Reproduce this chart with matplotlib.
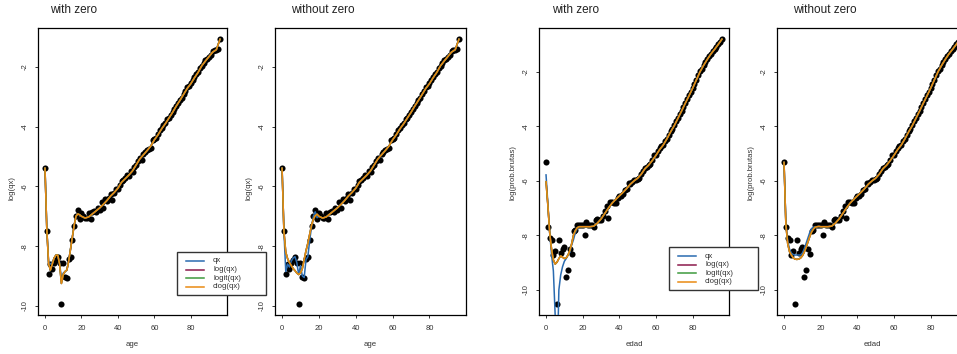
import matplotlib
matplotlib.use("Agg")
import matplotlib.pyplot as plt
from matplotlib.patches import Rectangle
from matplotlib.lines import Line2D

plt.rcParams['font.family'] = ['Liberation Sans', 'DejaVu Sans']
plt.rcParams['axes.unicode_minus'] = False

# observed log mortality, ages 0..96
ages = list(range(97))
log_qx = [-5.37, -7.48, -8.92, -8.61, -8.75, -8.55, -8.45, -8.35, -8.55, -9.95,
          -8.58, -9.05, -9.08, -8.42, -8.38, -7.80, -7.33, -7.00, -6.78, -7.08,
          -6.88, -7.00, -7.05, -7.05, -6.90, -7.10, -6.85, -6.82, -6.85, -6.72,
          -6.78, -6.52, -6.72, -6.42, -6.50, -6.38, -6.25, -6.45, -6.22, -6.10,
          -6.08, -5.95, -5.82, -5.78, -5.72, -5.62, -5.65, -5.48, -5.50, -5.35,
          -5.28, -5.15, -5.05, -5.10, -4.92, -4.85, -4.78, -4.75, -4.70, -4.45,
          -4.42, -4.38, -4.25, -4.12, -4.05, -3.95, -3.88, -3.75, -3.70, -3.62,
          -3.50, -3.42, -3.30, -3.22, -3.10, -3.05, -2.90, -2.82, -2.68, -2.65,
          -2.55, -2.45, -2.35, -2.22, -2.18, -2.05, -1.95, -1.85, -1.78, -1.72,
          -1.65, -1.60, -1.48, -1.42, -1.42, -1.40, -1.05]
log_prob = [-5.32, -7.68, -8.10, -8.15, -8.72, -8.56, -10.53, -8.17, -8.65, -8.50,
            -8.42, -9.54, -9.27, -8.51, -8.67, -7.82, -7.80, -7.62, -7.62, -7.60,
            -7.62, -7.98, -7.49, -7.62, -7.60, -7.62, -7.70, -7.45, -7.40, -7.42,
            -7.45, -7.30, -7.10, -6.92, -7.37, -6.76, -6.78, -6.80, -6.82, -6.62,
            -6.57, -6.55, -6.48, -6.35, -6.28, -6.08, -6.10, -6.05, -5.95, -5.98,
            -5.92, -5.90, -5.75, -5.62, -5.52, -5.50, -5.42, -5.38, -5.25, -5.05,
            -5.05, -4.92, -4.80, -4.72, -4.68, -4.55, -4.45, -4.30, -4.18, -4.08,
            -3.95, -3.80, -3.68, -3.55, -3.42, -3.28, -3.15, -3.00, -2.85, -2.72,
            -2.60, -2.45, -2.30, -2.12, -1.98, -1.88, -1.75, -1.62, -1.52, -1.42,
            -1.34, -1.25, -1.16, -1.08, -0.98, -0.90, -0.78]

# fitted curves: young ages (0..19) per panel, older ages shared per dataset
young_age = list(range(20))
upper_age = list(range(20, 97, 2))
upper_fit_qx = [-7.00, -7.06, -7.02, -6.92, -6.82, -6.72, -6.60, -6.47, -6.32, -6.20,
                -6.06, -5.86, -5.74, -5.62, -5.48, -5.28, -5.08, -4.94, -4.80, -4.65,
                -4.44, -4.27, -4.07, -3.90, -3.71, -3.52, -3.31, -3.12, -2.92, -2.72,
                -2.56, -2.36, -2.18, -1.96, -1.80, -1.65, -1.50, -1.42, -1.07]
upper_fit_prob = [-7.68, -7.68, -7.68, -7.66, -7.55, -7.40, -7.20, -7.00, -6.82, -6.68,
                  -6.55, -6.42, -6.28, -6.12, -6.00, -5.90, -5.75, -5.55, -5.42, -5.25,
                  -5.06, -4.85, -4.68, -4.45, -4.20, -3.97, -3.70, -3.43, -3.15, -2.88,
                  -2.60, -2.30, -2.00, -1.76, -1.54, -1.34, -1.17, -0.99, -0.80]

p1_qx = [-5.39, -7.45, -8.55, -8.60, -8.55, -8.40, -8.30, -8.30, -8.55, -9.10,
         -8.90, -8.85, -8.80, -8.50, -8.10, -7.70, -7.30, -7.00, -6.92, -6.95]
p1_other = [-5.39, -7.45, -8.60, -8.80, -8.60, -8.40, -8.30, -8.30, -8.60, -9.25,
            -8.95, -8.85, -8.80, -8.50, -8.10, -7.70, -7.30, -7.00, -6.92, -6.95]
p2_qx = [-5.39, -7.50, -8.85, -8.60, -8.70, -8.50, -8.40, -8.35, -8.55, -8.95,
         -8.65, -9.00, -9.05, -8.45, -8.35, -7.80, -7.35, -7.00, -6.85, -7.05]
p2_other = [-5.39, -7.50, -8.20, -8.42, -8.55, -8.65, -8.75, -8.82, -8.90, -8.95,
            -8.90, -8.75, -8.45, -8.15, -7.90, -7.60, -7.30, -7.10, -6.98, -6.93]
p3_qx = [-5.78, -6.85, -7.90, -8.70, -9.30, -10.95, -13.00, -10.00, -9.45, -9.15,
         -8.95, -8.85, -8.72, -8.62, -8.35, -8.15, -7.90, -7.75, -7.68, -7.68]
p3_other = [-6.03, -6.90, -7.90, -8.50, -8.90, -9.05, -8.98, -8.85, -8.75, -8.80,
            -8.85, -8.82, -8.72, -8.55, -8.30, -7.98, -7.82, -7.72, -7.68, -7.68]
p4_qx = [-5.32, -7.55, -8.20, -8.50, -8.65, -8.70, -8.72, -8.72, -8.72, -8.72,
         -8.65, -8.50, -8.30, -8.10, -7.90, -7.75, -7.70, -7.68, -7.68, -7.67]
p4_other = [-5.32, -7.60, -8.30, -8.60, -8.72, -8.82, -8.87, -8.88, -8.87, -8.83,
            -8.75, -8.62, -8.45, -8.25, -8.05, -7.88, -7.77, -7.70, -7.68, -7.67]

labels = ['qx', 'log(qx)', 'logit(qx)', 'clog(qx)']
colors = ['#2a6bb0', '#8c1a4b', '#3d9a3d', '#ea8a12']

panels = [
    ("with zero", "age", "log(qx)", log_qx, p1_qx, p1_other, upper_fit_qx, 38, 227, 50, (177, 252)),
    ("without zero", "age", "log(qx)", log_qx, p2_qx, p2_other, upper_fit_qx, 275, 466, 291, None),
    ("with zero", "edad", "log(prob.brutas)", log_prob, p3_qx, p3_other, upper_fit_prob, 539, 729, 552, (669, 247)),
    ("without zero", "edad", "log(prob.brutas)", log_prob, p4_qx, p4_other, upper_fit_prob, 777, 967, 793, None),
]

W, H = 957, 354
top, bottom = 28, 315
fig = plt.figure(figsize=(W / 100, H / 100), dpi=100)

for title, xlab, ylab, pts, young_qx, young_other, upper, left, right, tx, leg in panels:
    ax = fig.add_axes([left / W, 1 - bottom / H, (right - left) / W, (bottom - top) / H])
    ax.plot(ages, pts, 'o', color='black', ms=4.4, mew=0, zorder=2)
    x_fit = young_age + upper_age
    ax.plot(x_fit, young_qx + upper, color=colors[0], lw=1.1, zorder=3)
    for c in colors[1:]:
        ax.plot(x_fit, young_other + upper, color=c, lw=1.1, zorder=3)
    lo, hi = min(pts), max(pts)
    r = hi - lo
    ax.set_ylim(lo - 0.04 * r, hi + 0.04 * r)
    ax.set_xlim(-0.04 * 96, 96 * 1.04)
    ax.set_xticks([0, 20, 40, 60, 80])
    ax.set_yticks([-10, -8, -6, -4, -2])
    ax.tick_params(length=2.3, width=0.7, labelsize=5.5, color='#333333', labelcolor='#333333')
    ax.tick_params(axis='x', pad=5)
    ax.tick_params(axis='y', pad=4.5)
    for lb in ax.get_yticklabels():
        lb.set_rotation(90)
        lb.set_va('center')
    for s in ax.spines.values():
        s.set_linewidth(0.9)
    cx = (left + right) / 2
    fig.text(tx / W, 1 - 10 / H, title, ha='left', va='center', fontsize=8.5, color='#222222')
    fig.text(cx / W, 1 - 345 / H, xlab, ha='center', va='center', fontsize=5.6, color='#333333')
    fig.text((left - 26) / W, 1 - 200 / H, ylab, rotation=90, ha='center', va='bottom',
             fontsize=5.6, color='#333333')

    if leg is not None:
        lx, ly = leg
        fig.add_artist(Rectangle((lx / W, 1 - (ly + 43) / H), 89 / W, 43 / H,
                                 transform=fig.transFigure, facecolor='white',
                                 edgecolor='#333333', lw=1.0, zorder=5))
        for i, (lab, c) in enumerate(zip(labels, colors)):
            yy = 1 - (ly + 9 + 8.6 * i) / H
            fig.add_artist(Line2D([(lx + 9) / W, (lx + 27) / W], [yy, yy],
                                  transform=fig.transFigure, color=c, lw=1.1, zorder=6))
            fig.text((lx + 36) / W, yy, lab, ha='left', va='center', fontsize=5.6,
                     color='#333333', zorder=6)

fig.savefig("out.png", dpi=100)
